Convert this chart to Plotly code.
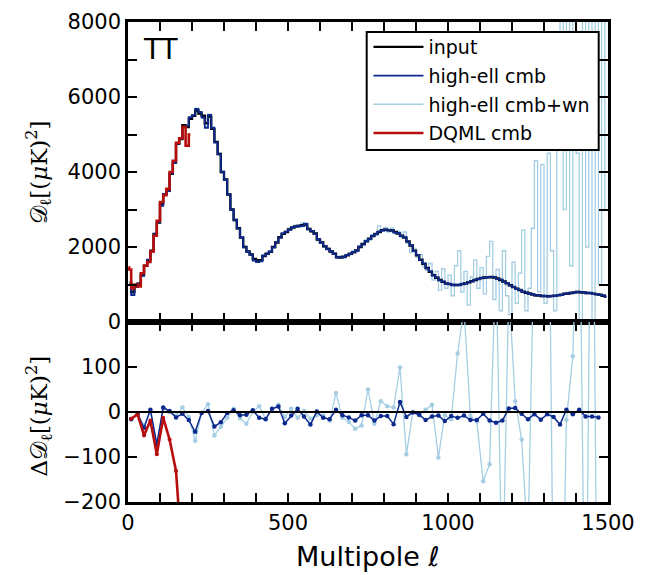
import plotly.graph_objects as go
from plotly.subplots import make_subplots

# ---------------- data ----------------
# top panel: binned spectra, bin centres every 10 in ell
ELL_TOP = list(range(5, 1500, 10))

INPUT = [1050, 800, 950, 1020, 1250, 1500, 1650, 1900, 2350, 2650,
         3150, 3400, 3500, 3950, 4250, 4750, 4880, 5250, 5200, 5420,
         5500, 5640, 5560, 5500, 5300, 5480, 5150, 4800, 4480, 4000,
         3800, 3400, 3000, 2720, 2500, 2250, 2000, 1880, 1800, 1680,
         1640, 1650, 1760, 1820, 1870, 2000, 2120, 2260, 2350, 2400,
         2470, 2520, 2550, 2560, 2580, 2600, 2480, 2420, 2360, 2200,
         2120, 2020, 1950, 1880, 1820, 1730, 1720, 1740, 1780, 1820,
         1860, 1910, 2000, 2080, 2150, 2220, 2290, 2350, 2400, 2450,
         2460, 2450, 2440, 2400, 2360, 2300, 2250, 2150, 2040, 1900,
         1780, 1660, 1550, 1440, 1340, 1250, 1180, 1120, 1070, 1030,
         1010, 990, 985, 990, 1010, 1030, 1060, 1090, 1120, 1150,
         1170, 1185, 1195, 1200, 1185, 1160, 1120, 1080, 1030, 980,
         930, 890, 850, 810, 780, 760, 730, 715, 705, 695,
         690, 685, 690, 700, 710, 730, 750, 760, 775, 790,
         800, 795, 785, 775, 770, 755, 740, 725, 700, 680]

HIGHELL = [1040, 720, 930, 1030, 1230, 1490, 1660, 1880, 2340, 2660,
           3100, 3410, 3490, 3960, 4240, 4760, 4890, 5200, 5230, 5460,
           5510, 5680, 5600, 5450, 5180, 5520, 5180, 4790, 4470, 4010,
           3790, 3410, 2990, 2730, 2490, 2260, 1990, 1870, 1790, 1640,
           1600, 1620, 1770, 1810, 1880, 1990, 2130, 2250, 2360, 2410,
           2460, 2530, 2540, 2570, 2560, 2620, 2470, 2430, 2350, 2210,
           2110, 2030, 1940, 1890, 1810, 1720, 1730, 1730, 1790, 1810,
           1870, 1900, 2010, 2070, 2160, 2210, 2300, 2340, 2410, 2440,
           2470, 2440, 2450, 2390, 2370, 2290, 2260, 2140, 2050, 1890,
           1790, 1650, 1560, 1430, 1350, 1240, 1190, 1110, 1080, 1020,
           1020, 980, 995, 980, 1020, 1020, 1070, 1080, 1130, 1140,
           1180, 1175, 1205, 1190, 1195, 1150, 1130, 1070, 1040, 970,
           940, 880, 860, 800, 790, 750, 740, 705, 715, 685,
           700, 675, 700, 690, 720, 720, 760, 750, 785, 780,
           810, 785, 795, 765, 780, 745, 750, 715, 710, 670]

HIGHELL_WN = [1060, 760, 940, 1010, 1240, 1510, 1640, 1890, 2360, 2640,
              3120, 3420, 3480, 3960, 4240, 4760, 4900, 5220, 5210, 5450,
              5520, 5700, 5580, 5440, 5200, 5540, 5170, 4780, 4500, 3980,
              3820, 3380, 3020, 2700, 2520, 2230, 2020, 1860, 1820, 1650,
              1590, 1640, 1790, 1800, 1900, 1980, 2150, 2240, 2380, 2390,
              2500, 2490, 2580, 2540, 2640, 2570, 2500, 2400, 2390, 2170,
              2150, 1990, 1980, 1850, 1850, 1700, 1760, 1700, 1800, 1790,
              1900, 1880, 2040, 2050, 2190, 2180, 2330, 2320, 2560, 2420,
              2520, 2400, 2500, 2350, 2420, 2260, 2400, 2100, 1850, 1960,
              1720, 1800, 1480, 1380, 1560, 1120, 1350, 850, 1420, 900,
              1250, 700, 1500, 1900, 800, 1350, 450, 1200, 1650, 900,
              1450, 750, 1750, 2150, 600, 1400, 300, 1900, 700, 200,
              1600, 500, 1300, 2450, 300, 900, 2500, 4300, 800, 4200,
              500, 4500, 1900, 300, 4700, 9000, 3000, 12000, 1500, 10000,
              4500, -3000, 11000, 2000, 14000, -2000, 9500, 1000, 15000, 3000]

ELL_DQML = [2, 5, 15, 25, 35, 45, 55, 65, 75, 85, 95, 105, 115, 125, 135, 145,
            155, 165, 175, 185, 195]
DQML = [1460, 1400, 900, 1000, 950, 1300, 1500, 1600, 1880, 2300, 2700, 3200,
        3380, 3550, 4000, 4300, 4780, 4900, 5200, 4700, 5000]

# bottom panel: residuals, bin centres every 20 in ell
ELL_RES = list(range(10, 1480, 20))
RES_HIGHELL = [-16, -5, -35, 5, -72, 10, 2, -12, -4, -18,
               -44, -2, 2, -32, -23, -2, 4, -7, -6, 4,
               -13, -16, 7, 12, -25, -8, 7, -10, -28, 1,
               -13, -16, 5, -7, -12, -19, -7, -7, -19, -9,
               -9, -27, 22, -11, -1, -6, -18, -10, -8, -20,
               -9, -13, -8, -18, -18, -4, -19, -24, -19, 8,
               9, -4, -16, -5, -17, -5, -11, -28, 5, -5,
               5, -10, -10, -12]
RES_HIGHELL_WN = [-15, -3, -30, 3, -70, 8, 0, -8, 10, -11,
                  -64, -2, 17, -52, -33, -13, 7, -14, -26, 0,
                  13, -15, 5, 16, -11, 7, -13, 2, -15, -7,
                  -8, -19, 42, -13, -22, -37, -30, 50, -26, 24,
                  13, 10, 99, -94, 0, -7, 5, 16, -101, -7,
                  -16, 130, 230, -9, -21, -154, -116, 350, -420, 280,
                  24, -61, -290, 420, 600, 900, -500, -800, -17, 124,
                  600, -700, 900, -900]
ELL_RES_DQML = [10, 30, 50, 70, 90, 110, 130, 150, 170, 190]
RES_DQML = [-15, -5, -52, -19, -94, -13, -61, -131, -330, -700]

SERIES_NAMES = ["input", "high-ell cmb", "high-ell cmb+wn", "DQML cmb"]
X_TICK_LABELS = {0: "0", 500: "500", 1000: "1000", 1500: "1500"}
Y_TOP_TICK_LABELS = {0: "0", 2000: "2000", 4000: "4000", 6000: "6000", 8000: "8000"}
Y_BOT_TICK_LABELS = {-200: "\u2212200", -100: "\u2212100", 0: "0", 100: "100"}

# ---------------- style ----------------
C_INPUT = "#000000"
C_HIGH = "#0c2a8e"
C_WN = "#a6cee3"
C_DQML = "#b80d0d"
FONT = "DejaVu Sans"

fig = make_subplots(rows=2, cols=1, shared_xaxes=True, vertical_spacing=0,
                    row_heights=[0.625, 0.375])

fig.add_trace(go.Scatter(x=ELL_TOP, y=HIGHELL_WN, mode="lines", name=SERIES_NAMES[2],
                         legendgroup="c", line=dict(color=C_WN, width=1.3, shape="hvh"),
                         legendrank=3), row=1, col=1)
fig.add_trace(go.Scatter(x=ELL_TOP, y=INPUT, mode="lines", name=SERIES_NAMES[0],
                         legendgroup="a", line=dict(color=C_INPUT, width=2.4, shape="hvh"),
                         legendrank=1), row=1, col=1)
fig.add_trace(go.Scatter(x=ELL_TOP, y=HIGHELL, mode="lines", name=SERIES_NAMES[1],
                         legendgroup="b", line=dict(color=C_HIGH, width=1.8, shape="hvh"),
                         legendrank=2), row=1, col=1)
fig.add_trace(go.Scatter(x=ELL_DQML, y=DQML, mode="lines", name=SERIES_NAMES[3],
                         legendgroup="d", line=dict(color=C_DQML, width=2.6, shape="hvh"),
                         legendrank=4), row=1, col=1)

fig.add_trace(go.Scatter(x=ELL_RES, y=RES_HIGHELL_WN, mode="lines+markers", showlegend=False,
                         line=dict(color=C_WN, width=1.3), marker=dict(size=4.5, color=C_WN)), row=2, col=1)
fig.add_trace(go.Scatter(x=ELL_RES, y=RES_HIGHELL, mode="lines+markers", showlegend=False,
                         line=dict(color=C_HIGH, width=1.5), marker=dict(size=4.5, color=C_HIGH)), row=2, col=1)
fig.add_trace(go.Scatter(x=ELL_RES_DQML, y=RES_DQML, mode="lines+markers", showlegend=False,
                         line=dict(color=C_DQML, width=2.6), marker=dict(size=4, color=C_DQML)), row=2, col=1)

# zero line in the residual panel
fig.add_shape(type="line", xref="x2 domain", yref="y2", x0=0, x1=1, y0=0, y1=0,
              line=dict(color="black", width=2))
# legend frame (white box over the curves; legend entries are drawn on top)
fig.add_shape(type="rect", xref="paper", yref="paper", x0=0.4973, x1=0.9806,
              y0=0.7332, y1=0.9792, fillcolor="white", line=dict(color="black", width=2),
              layer="above")

x_ticks = list(range(0, 1501, 100))
x_text_top = ["" for _ in x_ticks]
x_text_bot = [X_TICK_LABELS.get(v, "") for v in x_ticks]
y_top_ticks = list(range(0, 8001, 1000))
y_top_text = [Y_TOP_TICK_LABELS.get(v, "") for v in y_top_ticks]
y_bot_ticks = [-200, -100, 0, 100, 200]
y_bot_text = [Y_BOT_TICK_LABELS.get(v, "") for v in y_bot_ticks]

axis_common = dict(showline=True, linecolor="black", linewidth=2.6, mirror="ticks",
                   ticks="inside", ticklen=9, tickwidth=2, tickcolor="black",
                   showgrid=False, zeroline=False, automargin=False,
                   tickfont=dict(family=FONT, size=21, color="black"))

fig.update_xaxes(range=[0, 1500], tickmode="array", tickvals=x_ticks, ticktext=x_text_top,
                 row=1, col=1, **axis_common)
fig.update_xaxes(range=[0, 1500], tickmode="array", tickvals=x_ticks, ticktext=x_text_bot,
                 row=2, col=1, **axis_common)
fig.update_yaxes(range=[0, 8000], tickmode="array", tickvals=y_top_ticks, ticktext=y_top_text,
                 row=1, col=1, **axis_common)
fig.update_yaxes(range=[-200, 200], tickmode="array", tickvals=y_bot_ticks, ticktext=y_bot_text,
                 row=2, col=1, **axis_common)

# the page body adds an 8px margin, so the figure is 8px smaller and shifted
fig.update_layout(
    width=646, height=567,
    margin=dict(l=120, r=46, t=14, b=73, autoexpand=False),
    paper_bgcolor="white", plot_bgcolor="white",
    font=dict(family=FONT, color="black"),
    legend=dict(x=0.501, y=0.9875, xanchor="left", yanchor="top",
                bgcolor="rgba(0,0,0,0)", borderwidth=0,
                font=dict(family=FONT, size=19, color="black"),
                itemwidth=50, traceorder="grouped", tracegroupgap=1),
    annotations=[
        dict(text="TT", xref="paper", yref="paper", x=0.027, y=0.942, xanchor="left",
             yanchor="middle", showarrow=False, font=dict(family=FONT, size=28)),
        dict(text="\U0001D49F<sub>\u2113</sub>[(<i>\u03bc</i>K)<sup>2</sup>]", xref="paper", yref="paper",
             x=-0.187, y=0.687, xanchor="center", yanchor="middle", textangle=-90,
             showarrow=False, font=dict(family="DejaVu Serif", size=23)),
        dict(text="\u0394\U0001D49F<sub>\u2113</sub>[(<i>\u03bc</i>K)<sup>2</sup>]", xref="paper", yref="paper",
             x=-0.187, y=0.1787, xanchor="center", yanchor="middle", textangle=-90,
             showarrow=False, font=dict(family="DejaVu Serif", size=23)),
        dict(text="Multipole \u2113", xref="paper", yref="paper", x=0.499, y=-0.1132,
             xanchor="center", yanchor="middle", showarrow=False, font=dict(family=FONT, size=27)),
    ],
)

fig.write_html("out.html")
